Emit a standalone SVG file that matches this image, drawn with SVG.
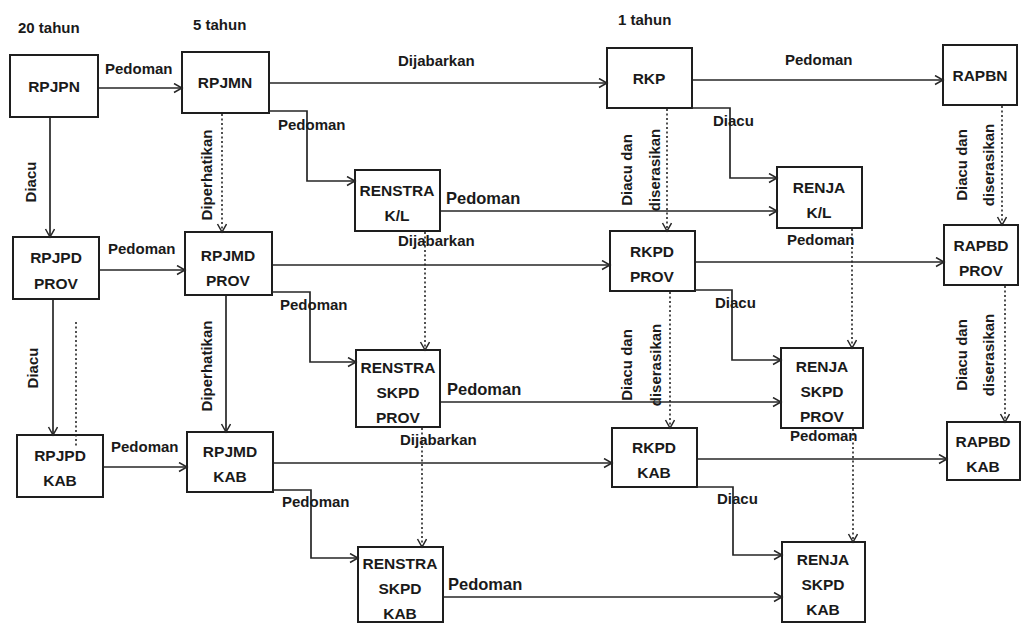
<svg xmlns="http://www.w3.org/2000/svg" width="1023" height="624" viewBox="0 0 1023 624">
<style>
.bg{fill:#ffffff}
.box{fill:#ffffff;stroke:#1e1e1e;stroke-width:2}
.nt{font-family:"Liberation Sans",Arial,sans-serif;font-weight:bold;font-size:15.5px;fill:#1a1a1a;text-anchor:middle}
.lb{font-family:"Liberation Sans",Arial,sans-serif;font-weight:bold;font-size:15px;fill:#1a1a1a}
.lbr{font-family:"Liberation Sans",Arial,sans-serif;font-weight:bold;font-size:15px;fill:#1a1a1a;text-anchor:middle}
.hd{font-family:"Liberation Sans",Arial,sans-serif;font-weight:bold;font-size:15px;fill:#1a1a1a}
.ln{fill:none;stroke:#262626;stroke-width:1.7}
.dt{fill:none;stroke:#262626;stroke-width:1.6;stroke-dasharray:2 2.5}
</style>
<defs>
<marker id="ah" markerUnits="userSpaceOnUse" markerWidth="12" markerHeight="12" refX="9" refY="5" orient="auto">
<path d="M1,0.5 L9,5 L1,9.5" fill="none" stroke="#262626" stroke-width="1.5"/>
</marker>
</defs>
<rect class="bg" x="0" y="0" width="1023" height="624"/>

<g id="headers">
<text class="hd" x="18" y="33">20 tahun</text>
<text class="hd" x="193" y="30">5 tahun</text>
<text class="hd" x="618" y="25">1 tahun</text>
</g>

<g id="RPJPN"><rect class="box" x="10" y="55" width="88" height="62"/><text class="nt" x="54" y="92">RPJPN</text></g>
<g id="RPJMN"><rect class="box" x="182" y="52" width="87" height="61"/><text class="nt" x="225" y="88">RPJMN</text></g>
<g id="RKP"><rect class="box" x="607" y="48" width="85" height="60"/><text class="nt" x="649" y="84">RKP</text></g>
<g id="RAPBN"><rect class="box" x="943" y="45" width="74" height="60"/><text class="nt" x="980" y="81">RAPBN</text></g>
<g id="RENSTRA-KL"><rect class="box" x="355" y="170" width="85" height="61"/><text class="nt" x="397" y="196">RENSTRA</text><text class="nt" x="397" y="221">K/L</text></g>
<g id="RENJA-KL"><rect class="box" x="777" y="167" width="85" height="61"/><text class="nt" x="819" y="193">RENJA</text><text class="nt" x="819" y="218">K/L</text></g>

<g id="RPJPD-PROV"><rect class="box" x="13" y="237" width="86" height="62"/><text class="nt" x="56" y="263">RPJPD</text><text class="nt" x="56" y="289">PROV</text></g>
<g id="RPJMD-PROV"><rect class="box" x="185" y="232" width="87" height="63"/><text class="nt" x="228" y="261">RPJMD</text><text class="nt" x="228" y="286">PROV</text></g>
<g id="RKPD-PROV"><rect class="box" x="610" y="231" width="85" height="60"/><text class="nt" x="652" y="257">RKPD</text><text class="nt" x="652" y="282">PROV</text></g>
<g id="RAPBD-PROV"><rect class="box" x="944" y="225" width="74" height="60"/><text class="nt" x="981" y="251">RAPBD</text><text class="nt" x="981" y="276">PROV</text></g>
<g id="RENSTRA-SKPD-PROV"><rect class="box" x="356" y="350" width="84" height="77"/><text class="nt" x="398" y="373">RENSTRA</text><text class="nt" x="398" y="398">SKPD</text><text class="nt" x="398" y="423">PROV</text></g>
<g id="RENJA-SKPD-PROV"><rect class="box" x="781" y="348" width="82" height="80"/><text class="nt" x="822" y="372">RENJA</text><text class="nt" x="822" y="397">SKPD</text><text class="nt" x="822" y="422">PROV</text></g>

<g id="RPJPD-KAB"><rect class="box" x="17" y="435" width="86" height="62"/><text class="nt" x="60" y="461">RPJPD</text><text class="nt" x="60" y="486">KAB</text></g>
<g id="RPJMD-KAB"><rect class="box" x="187" y="432" width="86" height="60"/><text class="nt" x="230" y="457">RPJMD</text><text class="nt" x="230" y="482">KAB</text></g>
<g id="RKPD-KAB"><rect class="box" x="612" y="428" width="85" height="59"/><text class="nt" x="654" y="453">RKPD</text><text class="nt" x="654" y="478">KAB</text></g>
<g id="RAPBD-KAB"><rect class="box" x="947" y="422" width="73" height="58"/><text class="nt" x="983" y="447">RAPBD</text><text class="nt" x="983" y="472">KAB</text></g>
<g id="RENSTRA-SKPD-KAB"><rect class="box" x="358" y="547" width="85" height="75"/><text class="nt" x="400" y="569">RENSTRA</text><text class="nt" x="400" y="594">SKPD</text><text class="nt" x="400" y="619">KAB</text></g>
<g id="RENJA-SKPD-KAB"><rect class="box" x="782" y="542" width="83" height="80"/><text class="nt" x="823" y="565">RENJA</text><text class="nt" x="823" y="590">SKPD</text><text class="nt" x="823" y="615">KAB</text></g>

<g id="connectors">
<line class="ln" x1="99" y1="88" x2="182" y2="88" marker-end="url(#ah)"/>
<line class="ln" x1="270" y1="83" x2="607" y2="83" marker-end="url(#ah)"/>
<line class="ln" x1="693" y1="80" x2="943" y2="80" marker-end="url(#ah)"/>
<line class="ln" x1="50" y1="118" x2="50" y2="237" marker-end="url(#ah)"/>
<line class="dt" x1="222" y1="114" x2="222" y2="232" marker-end="url(#ah)"/>
<line class="dt" x1="667" y1="109" x2="667" y2="231" marker-end="url(#ah)"/>
<line class="dt" x1="1002" y1="106" x2="1002" y2="225" marker-end="url(#ah)"/>
<polyline class="ln" points="269,111 307,111 307,181 355,181" marker-end="url(#ah)"/>
<polyline class="ln" points="692,108 730,108 730,178 777,178" marker-end="url(#ah)"/>
<line class="ln" x1="441" y1="211" x2="777" y2="211" marker-end="url(#ah)"/>
<line class="ln" x1="100" y1="270" x2="185" y2="270" marker-end="url(#ah)"/>
<line class="ln" x1="273" y1="265" x2="610" y2="265" marker-end="url(#ah)"/>
<line class="ln" x1="696" y1="262" x2="944" y2="262" marker-end="url(#ah)"/>
<line class="dt" x1="425" y1="232" x2="425" y2="350" marker-end="url(#ah)"/>
<line class="dt" x1="852" y1="229" x2="852" y2="348" marker-end="url(#ah)"/>
<polyline class="ln" points="272,292 310,292 310,362 356,362" marker-end="url(#ah)"/>
<polyline class="ln" points="695,290 732,290 732,360 781,360" marker-end="url(#ah)"/>
<line class="ln" x1="441" y1="402" x2="781" y2="402" marker-end="url(#ah)"/>
<line class="ln" x1="53" y1="300" x2="53" y2="435" marker-end="url(#ah)"/>
<line class="dt" x1="76" y1="322" x2="76" y2="447"/>
<line class="ln" x1="226" y1="296" x2="226" y2="432" marker-end="url(#ah)"/>
<line class="dt" x1="670" y1="292" x2="670" y2="428" marker-end="url(#ah)"/>
<line class="dt" x1="1005" y1="286" x2="1005" y2="422" marker-end="url(#ah)"/>
<line class="ln" x1="104" y1="467" x2="187" y2="467" marker-end="url(#ah)"/>
<line class="ln" x1="274" y1="463" x2="612" y2="463" marker-end="url(#ah)"/>
<line class="ln" x1="698" y1="459" x2="947" y2="459" marker-end="url(#ah)"/>
<line class="dt" x1="422" y1="428" x2="422" y2="547" marker-end="url(#ah)"/>
<line class="dt" x1="853" y1="429" x2="853" y2="542" marker-end="url(#ah)"/>
<polyline class="ln" points="273,490 311,490 311,558 358,558" marker-end="url(#ah)"/>
<polyline class="ln" points="697,487 733,487 733,555 782,555" marker-end="url(#ah)"/>
<line class="ln" x1="444" y1="597" x2="782" y2="597" marker-end="url(#ah)"/>

<text class="lb" x="105" y="74">Pedoman</text>
<text class="lb" x="398" y="66">Dijabarkan</text>
<text class="lb" x="785" y="65">Pedoman</text>
<text class="lb" x="278" y="130">Pedoman</text>
<text class="lb" x="713" y="126">Diacu</text>
<text class="lb" x="446" y="204" style="font-size:16.5px">Pedoman</text>
<text class="lbr" transform="translate(36,182) rotate(-90)">Diacu</text>
<text class="lbr" transform="translate(212,175) rotate(-90)">Diperhatikan</text>
<text class="lbr" transform="translate(632,170) rotate(-90)">Diacu dan</text>
<text class="lbr" transform="translate(660,170) rotate(-90)">diserasikan</text>
<text class="lbr" transform="translate(967,165) rotate(-90)">Diacu dan</text>
<text class="lbr" transform="translate(994,165) rotate(-90)">diserasikan</text>

<text class="lb" x="108" y="254">Pedoman</text>
<text class="lb" x="398" y="246">Dijabarkan</text>
<text class="lb" x="787" y="245">Pedoman</text>
<text class="lb" x="280" y="310">Pedoman</text>
<text class="lb" x="715" y="308">Diacu</text>
<text class="lb" x="447" y="395" style="font-size:16.5px">Pedoman</text>
<text class="lbr" transform="translate(38,368) rotate(-90)">Diacu</text>
<text class="lbr" transform="translate(212,366) rotate(-90)">Diperhatikan</text>
<text class="lbr" transform="translate(632,365) rotate(-90)">Diacu dan</text>
<text class="lbr" transform="translate(661,365) rotate(-90)">diserasikan</text>
<text class="lbr" transform="translate(967,355) rotate(-90)">Diacu dan</text>
<text class="lbr" transform="translate(994,355) rotate(-90)">diserasikan</text>

<text class="lb" x="111" y="452">Pedoman</text>
<text class="lb" x="400" y="445">Dijabarkan</text>
<text class="lb" x="790" y="441">Pedoman</text>
<text class="lb" x="282" y="507">Pedoman</text>
<text class="lb" x="717" y="504">Diacu</text>
<text class="lb" x="448" y="590" style="font-size:16.5px">Pedoman</text>
</g>
</svg>
